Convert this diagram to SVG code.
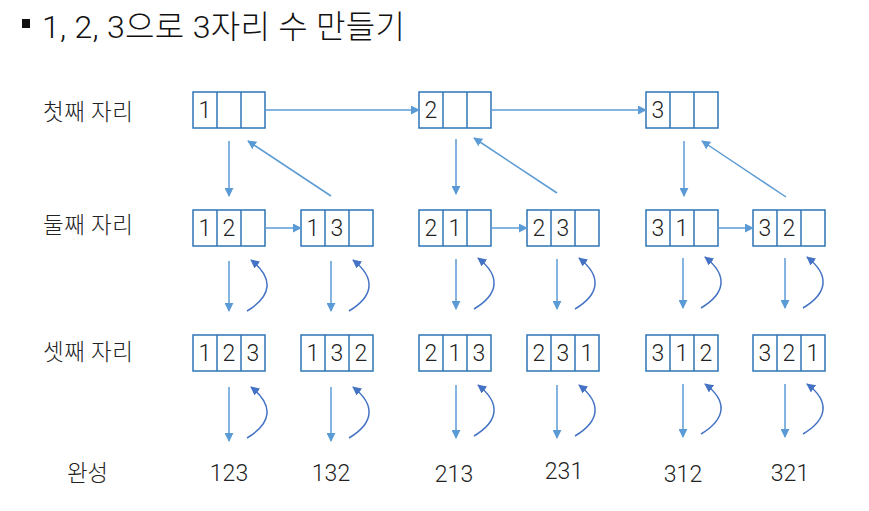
<svg xmlns="http://www.w3.org/2000/svg" width="869" height="511" viewBox="0 0 869 511">
<defs>
<style>
.box{fill:#fff;stroke:#2E75B6;stroke-width:1.5}
.num{font-family:Roboto,"Noto Sans CJK KR",sans-serif;font-weight:300;font-size:23px;fill:#222;text-anchor:middle}
.lbl{font-family:"Noto Sans CJK KR",sans-serif;font-weight:300;font-size:22.5px;fill:#222}
.res{font-family:Roboto,"Noto Sans CJK KR",sans-serif;font-weight:300;font-size:23px;fill:#222;text-anchor:middle}
.ln{fill:none;stroke:#5B9BD5;stroke-width:1.5;marker-end:url(#ah)}
.cv{fill:none;stroke:#4472C4;stroke-width:1.5;marker-end:url(#ah2)}
</style>
<marker id="ah" viewBox="0 0 10 10" refX="9" refY="5" markerWidth="9" markerHeight="9" markerUnits="userSpaceOnUse" orient="auto"><path d="M0,0 L10,5 L0,10 z" fill="#5B9BD5"/></marker>
<marker id="ah2" viewBox="0 0 10 10" refX="9" refY="5" markerWidth="9" markerHeight="9" markerUnits="userSpaceOnUse" orient="auto"><path d="M0,0 L10,5 L0,10 z" fill="#4472C4"/></marker>
<g id="cell3">
<rect class="box" x="0" y="0" width="72" height="36"/>
<line x1="24" y1="0" x2="24" y2="36" stroke="#2E75B6" stroke-width="1.5"/>
<line x1="48" y1="0" x2="48" y2="36" stroke="#2E75B6" stroke-width="1.5"/>
</g>
</defs>
<rect width="869" height="511" fill="#fff"/>
<g id="title">
<rect x="22" y="19" width="8" height="9" fill="#111"/>
<text x="42" y="38" font-family="Roboto,Noto Sans CJK KR,sans-serif" font-weight="300" font-size="32" fill="#111" textLength="363" lengthAdjust="spacing">1, 2, 3으로 3자리 수 만들기</text>
</g>
<g id="labels">
<text class="lbl" x="43" y="120" textLength="90">첫째 자리</text>
<text class="lbl" x="43" y="233" textLength="90">둘째 자리</text>
<text class="lbl" x="43" y="360" textLength="90">셋째 자리</text>
<text class="lbl" x="67" y="481" textLength="41">완성</text>
</g>
<g id="row1">
<g id="n1"><use href="#cell3" x="193" y="92"/><text class="num" x="205" y="118">1</text></g>
<g id="n2"><use href="#cell3" x="419" y="92"/><text class="num" x="431" y="118">2</text></g>
<g id="n3"><use href="#cell3" x="646" y="92"/><text class="num" x="658" y="118">3</text></g>
</g>
<g id="row2">
<g id="n12"><use href="#cell3" x="193" y="210"/><text class="num" x="205" y="236">1</text><text class="num" x="229" y="236">2</text></g>
<g id="n13"><use href="#cell3" x="301" y="210"/><text class="num" x="313" y="236">1</text><text class="num" x="337" y="236">3</text></g>
<g id="n21"><use href="#cell3" x="419" y="210"/><text class="num" x="431" y="236">2</text><text class="num" x="455" y="236">1</text></g>
<g id="n23"><use href="#cell3" x="527" y="210"/><text class="num" x="539" y="236">2</text><text class="num" x="563" y="236">3</text></g>
<g id="n31"><use href="#cell3" x="646" y="210"/><text class="num" x="658" y="236">3</text><text class="num" x="682" y="236">1</text></g>
<g id="n32"><use href="#cell3" x="753" y="210"/><text class="num" x="765" y="236">3</text><text class="num" x="789" y="236">2</text></g>
</g>
<g id="row3">
<g id="n123"><use href="#cell3" x="193" y="335"/><text class="num" x="205" y="361">1</text><text class="num" x="229" y="361">2</text><text class="num" x="253" y="361">3</text></g>
<g id="n132"><use href="#cell3" x="301" y="335"/><text class="num" x="313" y="361">1</text><text class="num" x="337" y="361">3</text><text class="num" x="361" y="361">2</text></g>
<g id="n213"><use href="#cell3" x="419" y="335"/><text class="num" x="431" y="361">2</text><text class="num" x="455" y="361">1</text><text class="num" x="479" y="361">3</text></g>
<g id="n231"><use href="#cell3" x="527" y="335"/><text class="num" x="539" y="361">2</text><text class="num" x="563" y="361">3</text><text class="num" x="587" y="361">1</text></g>
<g id="n312"><use href="#cell3" x="646" y="335"/><text class="num" x="658" y="361">3</text><text class="num" x="682" y="361">1</text><text class="num" x="706" y="361">2</text></g>
<g id="n321"><use href="#cell3" x="753" y="335"/><text class="num" x="765" y="361">3</text><text class="num" x="789" y="361">2</text><text class="num" x="813" y="361">1</text></g>
</g>
<g id="results">
<text class="res" x="229" y="481">123</text>
<text class="res" x="331" y="481">132</text>
<text class="res" x="454" y="482">213</text>
<text class="res" x="564" y="479">231</text>
<text class="res" x="683" y="482">312</text>
<text class="res" x="790" y="481">321</text>
</g>
<g id="connectors">
<line class="ln" x1="265" y1="110" x2="419" y2="110"/>
<line class="ln" x1="491" y1="110" x2="646" y2="110"/>
<line class="ln" x1="229" y1="141" x2="229" y2="196"/>
<line class="ln" x1="456" y1="139" x2="456" y2="194"/>
<line class="ln" x1="684" y1="141" x2="684" y2="196"/>
<line class="ln" x1="331" y1="196" x2="248" y2="141"/>
<line class="ln" x1="557" y1="193" x2="474" y2="138"/>
<line class="ln" x1="786" y1="197" x2="702" y2="141"/>
<line class="ln" x1="265" y1="228" x2="301" y2="228"/>
<line class="ln" x1="491" y1="228" x2="527" y2="228"/>
<line class="ln" x1="717" y1="228" x2="753" y2="228"/>
<line class="ln" x1="229" y1="261" x2="229" y2="311"/>
<line class="ln" x1="331" y1="261" x2="331" y2="311"/>
<line class="ln" x1="456" y1="259" x2="456" y2="309"/>
<line class="ln" x1="557" y1="259" x2="557" y2="309"/>
<line class="ln" x1="683" y1="258" x2="683" y2="308"/>
<line class="ln" x1="785" y1="258" x2="785" y2="308"/>
<line class="ln" x1="229" y1="387" x2="229" y2="441"/>
<line class="ln" x1="331" y1="387" x2="331" y2="441"/>
<line class="ln" x1="456" y1="385" x2="456" y2="438"/>
<line class="ln" x1="557" y1="385" x2="557" y2="438"/>
<line class="ln" x1="683" y1="384" x2="683" y2="437"/>
<line class="ln" x1="785" y1="384" x2="785" y2="437"/>
<path class="cv" d="M247,311 C272,296 274,278 251,260"/>
<path class="cv" d="M349,311 C374,296 376,278 353,260"/>
<path class="cv" d="M474,309 C499,294 501,276 478,258"/>
<path class="cv" d="M575,309 C600,294 602,276 579,258"/>
<path class="cv" d="M701,308 C726,293 728,275 705,257"/>
<path class="cv" d="M803,308 C828,293 830,275 807,257"/>
<path class="cv" d="M247,438 C272,423 274,405 251,387"/>
<path class="cv" d="M349,438 C374,423 376,405 353,387"/>
<path class="cv" d="M474,436 C499,421 501,403 478,385"/>
<path class="cv" d="M575,436 C600,421 602,403 579,385"/>
<path class="cv" d="M701,434 C726,419 728,401 705,384"/>
<path class="cv" d="M803,434 C828,419 830,401 807,384"/>
</g>
</svg>
